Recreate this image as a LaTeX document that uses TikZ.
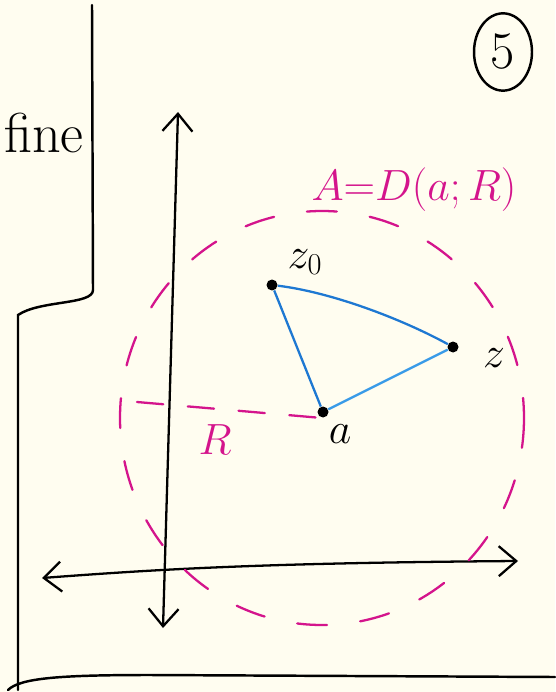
\documentclass[tikz,border=0pt]{standalone}
\usepackage{amsmath}
\usepackage{xcolor}
\usepackage{tikz}
\usetikzlibrary{arrows.meta,calc,positioning,shapes.geometric}
\definecolor{papercream}{HTML}{FFFDF0}
\definecolor{inkmagenta}{HTML}{D4148C}
\definecolor{inkblue}{HTML}{1E78D2}
\definecolor{inklightblue}{HTML}{3A9BE8}
\tikzset{
  frame/.style={line width=1.4pt,black,line cap=round},
  axis/.style={line width=1.3pt,black,{Straight Barb[length=3.5mm,width=6mm]}-{Straight Barb[length=3.5mm,width=6mm]}},
  diskline/.style={line width=1.3pt,inkmagenta,dash pattern=on 17pt off 19pt,line cap=round},
  edge/.style={line width=1.3pt,inkblue},
  pt/.style={circle,fill=black,inner sep=0pt,minimum size=2.2mm},
  maglabel/.style={inkmagenta,font=\fontsize{30}{30}\selectfont}
}
\begin{document}
\begin{tikzpicture}[x=0.02cm,y=-0.02cm]
  \fill[papercream] (0,0) rectangle (555,692);
  \useasboundingbox (0,0) rectangle (555,692);
  % frame of the page
  \draw[frame] (92,5) -- (93,290) .. controls (93,305) and (40,300) .. (18,315) -- (18,690);
  \draw[frame] (8,690) .. controls (20,678) and (60,675) .. (150,675) -- (555,677);
  \node[font=\fontsize{32}{32}\selectfont] (fine) at (44,133) {fine};
  \node[draw,ellipse,line width=1.4pt,minimum width=33pt,minimum height=44pt,inner sep=0pt] (five) at (503,52) {};
  \node[font=\fontsize{30}{30}\selectfont] (fivelabel) at (five) {5};
  % axes
  \coordinate (ytop) at (178,112);
  \coordinate (ybot) at (163,628);
  \coordinate (xleft) at (42,578);
  \coordinate (xright) at (518,561);
  \draw[axis] (ybot) -- (ytop);
  \draw[axis] (xleft) .. controls (150,570) and (250,563) .. (xright);
  % the disc and its radius
  \coordinate (ctr) at (322,418);
  \draw[diskline] (ctr) ellipse [x radius=202,y radius=207];
  \draw[diskline,dash pattern=on 15pt off 14pt] (137,402) -- (ctr);
  \node[maglabel] (R) at (215,440) {$R$};
  \node[maglabel] (title) at (414,190) {$A{=}D(a;R)$};
  % the three points
  \node[pt] (z0) at (272,285) {};
  \node[pt] (z) at (453,347) {};
  \node[pt] (a) at (323,412) {};
  \draw[edge] (z0) .. controls (330,292) and (400,318) .. (z);
  \draw[edge] (z0) -- (a);
  \draw[edge,inklightblue] (a) -- (z);
  \node[font=\fontsize{26}{26}\selectfont] (z0label) at (305,262) {$z_0$};
  \node[font=\fontsize{26}{26}\selectfont] (zlabel) at (494,358) {$z$};
  \node[font=\fontsize{26}{26}\selectfont] (alabel) at (340,434) {$a$};
\end{tikzpicture}
\end{document}
